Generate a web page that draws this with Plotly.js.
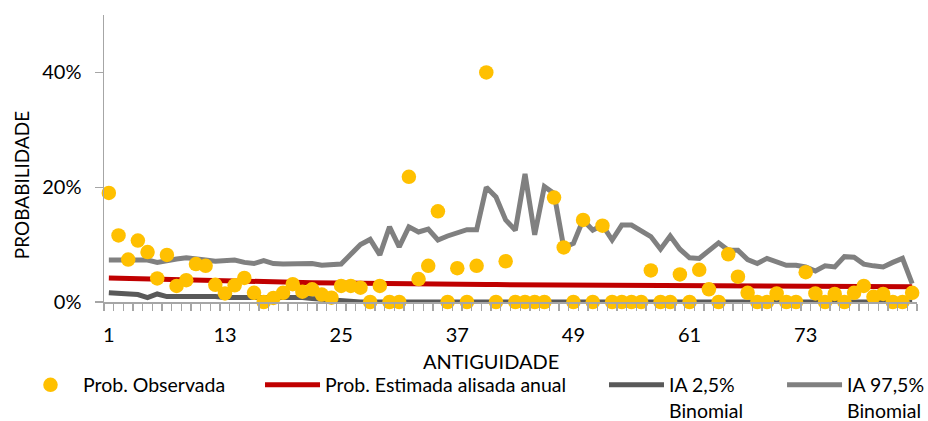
<!DOCTYPE html>
<html>
<head>
<meta charset="utf-8">
<script src="https://cdn.plot.ly/plotly-3.0.1.min.js"></script>
<style>
html,body{margin:0;padding:0;background:#fff;}
#chart{width:928px;height:421px;}
</style>
</head>
<body>
<div id="chart"></div>
<script>
// Antiguidade (categories 1..84)
var antiguidade = [1,2,3,4,5,6,7,8,9,10,11,12,13,14,15,16,17,18,19,20,21,22,23,24,25,26,27,28,29,30,31,32,33,34,35,36,37,38,39,40,41,42,43,44,45,46,47,48,49,50,51,52,53,54,55,56,57,58,59,60,61,62,63,64,65,66,67,68,69,70,71,72,73,74,75,76,77,78,79,80,81,82,83,84];

// Prob. Observada (%)
var probObservada = [19.0,11.6,7.4,10.7,8.7,4.1,8.2,2.8,3.8,6.6,6.3,3.0,1.5,2.9,4.2,1.6,0,0.7,1.6,3.1,1.8,2.2,1.3,0.75,2.8,2.8,2.5,0,2.8,0,0,21.8,4.0,6.3,15.8,0,5.9,0,6.3,40.0,0,7.1,0,0,0,0,18.2,9.5,0,14.3,0,13.3,0,0,0,0,5.5,0,0,4.8,0,5.6,2.2,0,8.3,4.4,1.6,0,0,1.5,0,0,5.2,1.5,0,1.4,0,1.6,2.8,0.9,1.4,0,0,1.6];

// Prob. Estimada alisada anual (%)
var probEstimada = [4.2,4.15,4.1,4.05,4.0,3.95,3.9,3.86,3.82,3.78,3.74,3.7,3.66,3.62,3.58,3.55,3.52,3.49,3.46,3.43,3.4,3.37,3.34,3.31,3.28,3.26,3.24,3.22,3.2,3.18,3.16,3.14,3.12,3.1,3.09,3.08,3.07,3.06,3.05,3.04,3.03,3.02,3.01,3.0,2.99,2.98,2.97,2.96,2.95,2.94,2.93,2.92,2.91,2.9,2.89,2.88,2.87,2.86,2.85,2.84,2.83,2.82,2.81,2.8,2.79,2.78,2.77,2.76,2.75,2.74,2.74,2.73,2.72,2.72,2.71,2.71,2.7,2.7,2.69,2.69,2.68,2.68,2.67,2.67];

// IA 2,5% Binomial (%)
var ia025 = [1.6,1.5,1.2,1.3,0.75,1.4,0.95,0.95,1.05,1.0,0.95,0.95,0.8,0.8,0.9,0.9,0.85,0.85,0.8,0.8,0.8,0.6,0.45,0.3,0.1,0,0,0,0,0,0,0,0,0,0,0,0,0,0,0,0,0,0,0,0,0,0,0,0,0,0,0,0,0,0,0,0,0,0,0,0,0,0,0,0,0,0,0,0,0,0,0,0,0,0,0,0,0,0,0,0,0,0,0];

// IA 97,5% Binomial (%)
var ia975 = [7.3,7.3,7.2,7.2,7.3,6.9,7.3,7.5,7.7,7.6,7.3,7.1,7.3,7.3,6.9,6.7,7.2,6.7,6.6,6.6,6.55,6.7,6.4,6.55,6.6,8.3,10.0,10.9,8.2,13.1,9.6,13.1,12.2,12.7,10.8,11.5,12.1,12.6,12.6,20.0,18.3,14.3,12.5,22.3,11.7,20.1,18.9,9.5,10.2,14.3,12.5,13.4,10.8,13.4,13.4,12.5,11.4,9.2,11.5,9.2,7.7,7.6,9.0,10.3,9.0,9.0,7.4,6.7,7.6,7.0,6.4,6.4,6.1,5.4,6.3,6.1,7.9,7.8,6.6,6.3,6.1,6.9,7.6,3.2];

var xTickVals = [1,13,25,37,49,61,73];
var yTickVals = [0,20,40];

var FONT = 'Lato, "Open Sans", sans-serif';
var AXIS_COLOR = '#a6a6a6';

var traces = [
  {x: antiguidade, y: ia975, type: 'scatter', mode: 'lines', name: 'IA 97,5%<br>Binomial',
   line: {color: '#808080', width: 5}, legend: 'legend4', hoverinfo: 'skip'},
  {x: antiguidade, y: ia025, type: 'scatter', mode: 'lines', name: 'IA 2,5%<br>Binomial',
   line: {color: '#595959', width: 5}, legend: 'legend3', hoverinfo: 'skip'},
  {x: antiguidade, y: probEstimada, type: 'scatter', mode: 'lines', name: 'Prob. Estimada alisada anual',
   line: {color: '#c00000', width: 5}, legend: 'legend2', hoverinfo: 'skip'},
  {x: antiguidade, y: probObservada, type: 'scatter', mode: 'markers', name: 'Prob. Observada',
   marker: {color: '#ffc000', size: 14.5}, legend: 'legend', hoverinfo: 'skip', cliponaxis: false}
];

function legendAt(xp) {
  return {
    x: xp, y: -0.2216, xref: 'paper', yref: 'paper', xanchor: 'left', yanchor: 'top',
    orientation: 'h', itemwidth: 55, valign: 'top', bgcolor: 'rgba(0,0,0,0)',
    font: {family: FONT, size: 19.5, color: '#000'}, itemclick: false, itemdoubleclick: false
  };
}

var layout = {
  width: 928, height: 421,
  margin: {l: 104, r: 11, t: 14.5, b: 119, autoexpand: false},
  paper_bgcolor: '#fff', plot_bgcolor: '#fff',
  font: {family: FONT, size: 19, color: '#000'},
  showlegend: true,
  legend: legendAt(-0.1058),
  legend2: legendAt(0.1919),
  legend3: legendAt(0.615),
  legend4: legendAt(0.834),
  xaxis: {
    range: [0.5, 84.5], tickmode: 'array', tickvals: xTickVals, ticktext: xTickVals.map(String),
    ticks: '', showgrid: false, zeroline: false, showline: true, linecolor: AXIS_COLOR, linewidth: 1.5,
    tickfont: {family: FONT, size: 20, color: '#000'}, ticklabelstandoff: 14,
    minor: {ticks: 'outside', tick0: 0.5, dtick: 1, ticklen: 7, tickcolor: AXIS_COLOR, tickwidth: 1.3, showgrid: false}
  },
  yaxis: {
    range: [0, 50], tickmode: 'array', tickvals: yTickVals, ticktext: yTickVals.map(function(v){return v + '%';}),
    ticks: 'outside', ticklen: 8, tickcolor: AXIS_COLOR, tickwidth: 1.3,
    showgrid: false, zeroline: false, showline: true, linecolor: AXIS_COLOR, linewidth: 1.5,
    tickfont: {family: FONT, size: 20, color: '#000'}, ticklabelstandoff: 9
  },
  annotations: [
    {text: 'ANTIGUIDADE', xref: 'paper', yref: 'paper', x: 0.4766, y: -0.2052, xanchor: 'center', yanchor: 'middle',
     showarrow: false, font: {family: FONT, size: 20, color: '#000'}},
    {text: 'PROBABILIDADE', xref: 'paper', yref: 'paper', x: -0.1021, y: 0.407, xanchor: 'center', yanchor: 'middle',
     textangle: -90, showarrow: false, font: {family: FONT, size: 19, color: '#000'}}
  ]
};

Plotly.newPlot('chart', traces, layout, {staticPlot: true, displayModeBar: false});
</script>
</body>
</html>
